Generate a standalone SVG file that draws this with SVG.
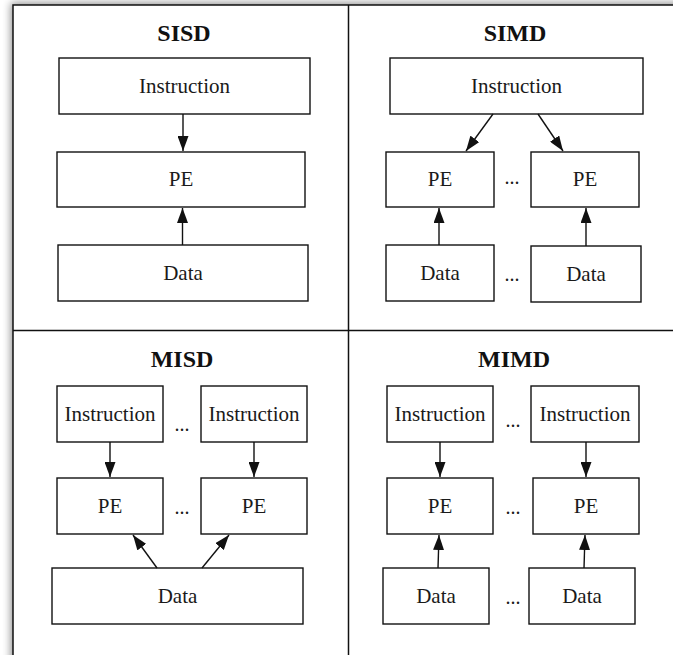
<svg xmlns="http://www.w3.org/2000/svg" width="673" height="655" viewBox="0 0 673 655">
  <style>
    .box { fill: #fff; stroke: #111; stroke-width: 1.4; }
    .frame { fill: none; stroke: #111; stroke-width: 1.5; }
    text { font-family: 'Liberation Serif', 'DejaVu Serif', serif; }
    .lbl { font-size: 21px; fill: #1a1a1a; text-anchor: middle; }
    .ttl { font-size: 24px; font-weight: bold; fill: #111; text-anchor: middle; }
    .dots { font-size: 20px; fill: #1a1a1a; text-anchor: middle; }
    .arr { stroke: #111; stroke-width: 1.4; fill: none; marker-end: url(#head); }
  </style>
  <defs>
    <marker id="head" markerUnits="userSpaceOnUse" markerWidth="15" markerHeight="11" refX="15" refY="5.5" orient="auto">
      <path d="M0,0 L15,5.5 L0,11 z" fill="#111"/>
    </marker>
    <filter id="shade" x="-10%" y="-10%" width="120%" height="120%">
      <feGaussianBlur stdDeviation="4"/>
    </filter>
  </defs>

  <rect width="673" height="655" fill="#fff"/>

  <!-- drop shadow along the left and top of the table -->
  <rect x="11" y="3" width="700" height="700" fill="#000" opacity="0.45" filter="url(#shade)"/>
  <rect x="13" y="5" width="700" height="700" fill="#fff"/>

  <!-- table grid -->
  <g id="grid">
    <path class="frame" d="M13,700 V5 H673"/>
    <path class="frame" d="M348.5,5 V655"/>
    <path class="frame" d="M13,330.5 H673"/>
  </g>

  <!-- SISD -->
  <g id="sisd">
    <text class="ttl" x="184" y="41">SISD</text>
    <g id="sisd-instruction"><rect class="box" x="59" y="58" width="251" height="56"/><text class="lbl" x="184.5" y="92.5">Instruction</text></g>
    <g id="sisd-pe"><rect class="box" x="57" y="152" width="248" height="55"/><text class="lbl" x="181" y="186">PE</text></g>
    <g id="sisd-data"><rect class="box" x="58" y="245" width="250" height="56"/><text class="lbl" x="183" y="279.5">Data</text></g>
  </g>

  <!-- SIMD -->
  <g id="simd">
    <text class="ttl" x="515" y="41">SIMD</text>
    <g id="simd-instruction"><rect class="box" x="390" y="58" width="253" height="56"/><text class="lbl" x="516.5" y="92.5">Instruction</text></g>
    <g id="simd-pe1"><rect class="box" x="386" y="152" width="108" height="55"/><text class="lbl" x="440" y="186">PE</text></g>
    <g id="simd-pe2"><rect class="box" x="531" y="152" width="108" height="55"/><text class="lbl" x="585" y="186">PE</text></g>
    <g id="simd-data1"><rect class="box" x="386" y="245" width="108" height="56"/><text class="lbl" x="440" y="279.5">Data</text></g>
    <g id="simd-data2"><rect class="box" x="531" y="246" width="110" height="56"/><text class="lbl" x="586" y="280.5">Data</text></g>
    <text class="dots" x="512" y="184">...</text>
    <text class="dots" x="512" y="281">...</text>
  </g>

  <!-- MISD -->
  <g id="misd">
    <text class="ttl" x="182" y="367">MISD</text>
    <g id="misd-instruction1"><rect class="box" x="57" y="386" width="106" height="56"/><text class="lbl" x="110" y="420.5">Instruction</text></g>
    <g id="misd-instruction2"><rect class="box" x="201" y="386" width="106" height="56"/><text class="lbl" x="254" y="420.5">Instruction</text></g>
    <g id="misd-pe1"><rect class="box" x="57" y="478" width="106" height="56"/><text class="lbl" x="110" y="512.5">PE</text></g>
    <g id="misd-pe2"><rect class="box" x="201" y="478" width="106" height="56"/><text class="lbl" x="254" y="512.5">PE</text></g>
    <g id="misd-data"><rect class="box" x="52" y="568" width="251" height="56"/><text class="lbl" x="177.5" y="602.5">Data</text></g>
    <text class="dots" x="182" y="431">...</text>
    <text class="dots" x="182" y="514">...</text>
  </g>

  <!-- MIMD -->
  <g id="mimd">
    <text class="ttl" x="514" y="367">MIMD</text>
    <g id="mimd-instruction1"><rect class="box" x="387" y="386" width="106" height="56"/><text class="lbl" x="440" y="420.5">Instruction</text></g>
    <g id="mimd-instruction2"><rect class="box" x="531" y="386" width="108" height="56"/><text class="lbl" x="585" y="420.5">Instruction</text></g>
    <g id="mimd-pe1"><rect class="box" x="387" y="478" width="106" height="56"/><text class="lbl" x="440" y="512.5">PE</text></g>
    <g id="mimd-pe2"><rect class="box" x="533" y="478" width="106" height="56"/><text class="lbl" x="586" y="512.5">PE</text></g>
    <g id="mimd-data1"><rect class="box" x="383" y="568" width="106" height="56"/><text class="lbl" x="436" y="602.5">Data</text></g>
    <g id="mimd-data2"><rect class="box" x="529" y="568" width="106" height="56"/><text class="lbl" x="582" y="602.5">Data</text></g>
    <text class="dots" x="513" y="427">...</text>
    <text class="dots" x="513" y="514">...</text>
    <text class="dots" x="513" y="604">...</text>
  </g>

  <!-- connectors -->
  <g id="connectors">
    <line class="arr" x1="183" y1="114" x2="183" y2="151"/>
    <line class="arr" x1="182.5" y1="245" x2="182.5" y2="208"/>

    <line class="arr" x1="493" y1="114" x2="466" y2="151"/>
    <line class="arr" x1="538" y1="114" x2="563" y2="151"/>
    <line class="arr" x1="439" y1="245" x2="439" y2="208"/>
    <line class="arr" x1="586" y1="246" x2="586" y2="208"/>

    <line class="arr" x1="110" y1="442" x2="110" y2="477"/>
    <line class="arr" x1="254" y1="442" x2="254" y2="477"/>
    <line class="arr" x1="157" y1="568" x2="133" y2="535"/>
    <line class="arr" x1="202" y1="568" x2="229" y2="535"/>

    <line class="arr" x1="440" y1="442" x2="440" y2="477"/>
    <line class="arr" x1="586" y1="442" x2="586" y2="477"/>
    <line class="arr" x1="438" y1="568" x2="439" y2="535"/>
    <line class="arr" x1="584" y1="568" x2="585" y2="535"/>
  </g>
</svg>
